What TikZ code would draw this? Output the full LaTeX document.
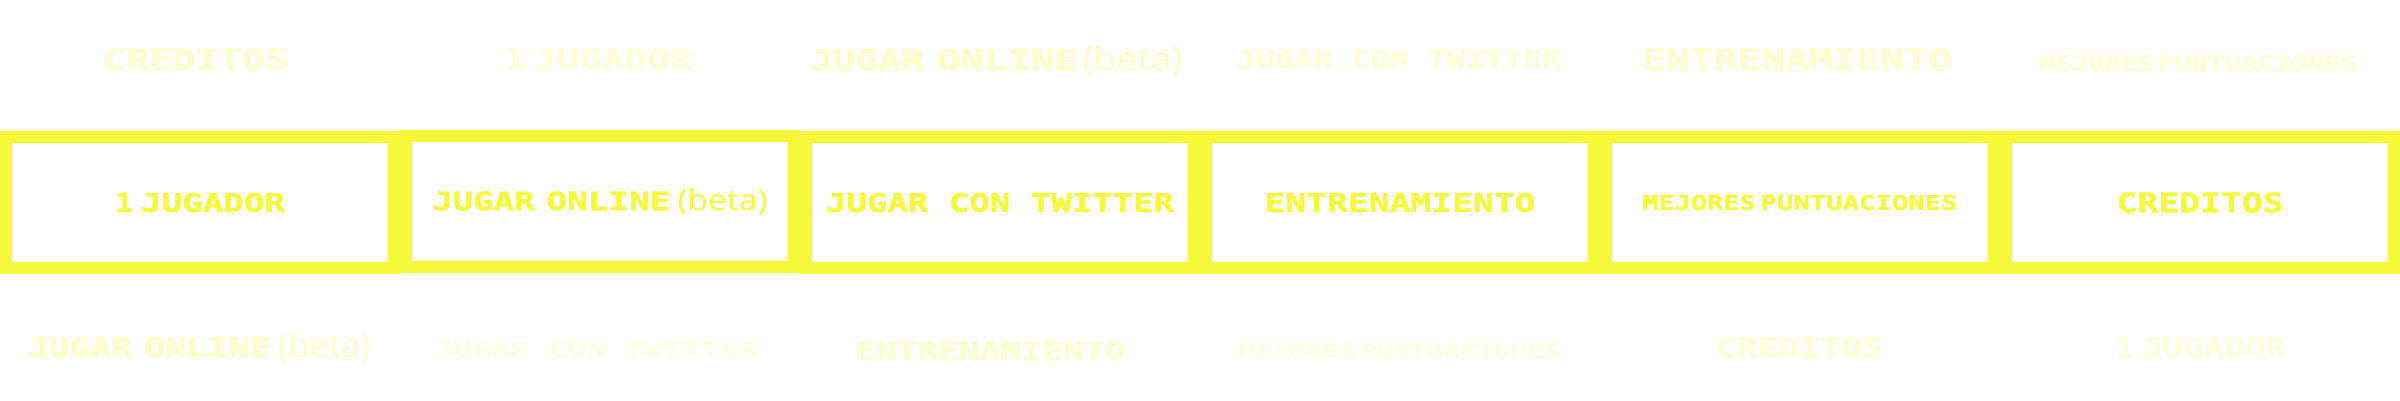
\documentclass[tikz,border=0pt]{standalone}
\usepackage{fontspec}
\usepackage{graphicx}
\newfontfamily\pixf{DejaVu Sans Mono}[BoldFeatures={FakeBold=1.2}]
\newfontfamily\betaf{Open Sans}
\definecolor{ylw}{RGB}{245,249,58}
\newcommand\pix[3]{\resizebox{#1pt}{#2pt}{\pixf\bfseries #3}}
\newcommand\btxt[2]{\resizebox{#1pt}{#2pt}{\betaf (beta)}}
% two-word label with its own gap: widths w1, gap, w2, cap height, words
\newcommand\pixtwo[6]{\pix{#1}{#4}{#5}\hspace{#2pt}\pix{#3}{#4}{#6}}
\tikzset{
  menubox/.style={draw=ylw, line width=12pt, minimum width=388pt, minimum height=131pt,
    inner sep=0pt, text=ylw},
  ghost/.style={inner sep=0pt, anchor=base, text=ylw!#1!white},
}
\begin{document}
\begin{tikzpicture}[x=1pt,y=-1pt]
\useasboundingbox[fill=white] (0,0) rectangle (2400,400);
% middle row: menu boxes
\node[menubox] (m1) at (200,202.5) {\pixtwo{18}{8}{144}{19}{1}{JUGADOR}};
\node[menubox] (m2) at (600,201.5) {\pixtwo{102}{12}{124}{19}{JUGAR}{ONLINE}\hspace{7pt}\btxt{90}{22}};
\node[menubox] (m3) at (1000,202.5) {\pix{348}{19}{JUGAR CON TWITTER}};
\node[menubox] (m4) at (1400,202.5) {\pix{271}{19}{ENTRENAMIENTO}};
\node[menubox] (m5) at (1800,202.5) {\pixtwo{113}{5}{197}{15}{MEJORES}{PUNTUACIONES}};
\node[menubox] (m6) at (2200,202.5) {\pix{167}{20}{CREDITOS}};
% top row: faded labels
\node[ghost=25] (t1) at (195.5,70) {\pix{185}{22}{CREDITOS}};
\node[ghost=20] (t2) at (598.5,69) {\pixtwo{20}{9}{158}{21}{1}{JUGADOR}};
\node[ghost=30] (t3) at (996.5,70) {\pixtwo{114}{13}{141}{21}{JUGAR}{ONLINE}\hspace{4pt}\btxt{101}{25}};
\node[ghost=22] (t4) at (1399,68) {\pix{324}{18}{JUGAR CON TWITTER}};
\node[ghost=25] (t5) at (1797,70) {\pix{310}{22}{ENTRENAMIENTO}};
\node[ghost=22] (t6) at (2198,71) {\pixtwo{114}{5}{199}{16}{MEJORES}{PUNTUACIONES}};
% bottom row: faded labels
\node[ghost=30] (b1) at (199,357) {\pixtwo{104}{12}{127}{20}{JUGAR}{ONLINE}\hspace{7pt}\btxt{92}{25}};
\node[ghost=14] (b2) at (596,357) {\pix{324}{16}{JUGAR CON TWITTER}};
\node[ghost=25] (b3) at (990,360) {\pix{270}{19}{ENTRENAMIENTO}};
\node[ghost=14] (b4) at (1399.5,358) {\pixtwo{116}{5}{200}{15}{MEJORES}{PUNTUACIONES}};
\node[ghost=22] (b5) at (1799.5,357) {\pix{167}{20}{CREDITOS}};
\node[ghost=18] (b6) at (2201,357) {\pixtwo{18}{8}{144}{20}{1}{JUGADOR}};
\end{tikzpicture}
\end{document}
